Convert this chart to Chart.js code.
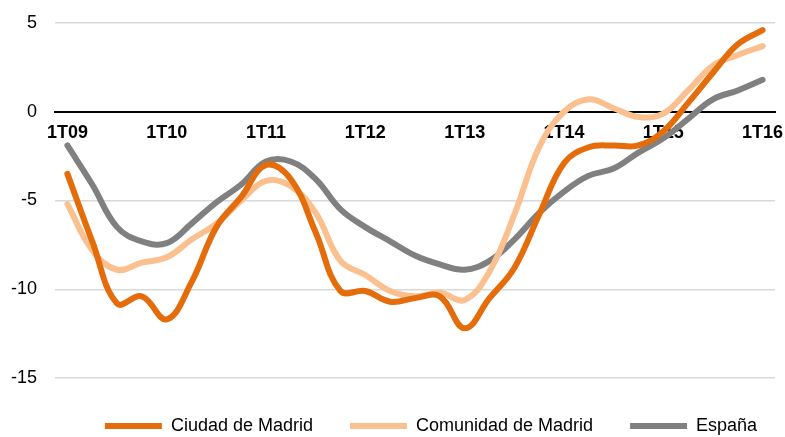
<!DOCTYPE html>
<html>
<head>
<meta charset="utf-8">
<script src="https://cdn.jsdelivr.net/npm/chart.js@4"></script>
<style>
  html, body { margin: 0; padding: 0; background: #fff; }
  #wrap { width: 785px; height: 437px; }
</style>
</head>
<body>
<div id="wrap"><canvas id="chart"></canvas></div>
<script>
// quarters 1T09 .. 1T16
const quarters = [];
for (let y = 9; y <= 16; y++) {
    for (let q = 1; q <= 4; q++) {
        if (y === 16 && q > 1) break;
        quarters.push(q + 'T' + String(y).padStart(2, '0'));
    }
}

const ciudad = [-3.5, -7.3, -10.8, -10.4, -11.7, -9.6, -6.5, -4.8, -3.0, -3.8, -6.8, -10.1, -10.1, -10.7, -10.5,
    -10.4, -12.2, -10.5, -8.8, -5.8, -2.9, -2.0, -1.9, -1.9, -1.1, 0.5, 2.2, 3.8, 4.6];
const comunidad = [-5.2, -7.8, -8.9, -8.5, -8.2, -7.2, -6.3, -5.0, -3.9, -4.2, -5.7, -8.4, -9.2, -10.1, -10.4,
    -10.2, -10.6, -9.0, -5.8, -2.0, 0.0, 0.7, 0.2, -0.3, -0.1, 1.2, 2.6, 3.2, 3.7];
const espana = [-1.9, -4.1, -6.5, -7.3, -7.4, -6.3, -5.1, -4.1, -2.8, -2.8, -3.8, -5.5, -6.5, -7.3, -8.1,
    -8.6, -8.9, -8.4, -7.2, -5.7, -4.5, -3.6, -3.2, -2.3, -1.5, -0.4, 0.7, 1.2, 1.8];

const seriesNames = ['Ciudad de Madrid', 'Comunidad de Madrid', 'España'];
const seriesColors = ['#E46C0A', '#FAC090', '#808080'];
const yTicks = [5, 0, -5, -10, -15];

const FONT = '"Liberation Sans", Arial, Helvetica, sans-serif';

// legend: fixed height and small shift so it sits like the original
const legendPlace = {
    id: 'legendPlace',
    beforeLayout(chart) {
        const lg = chart.legend;
        if (lg && !lg._patched) {
            const origFit = lg.fit;
            lg.fit = function () {
                origFit.call(this);
                this.height = 59;
            };
            lg._patched = true;
        }
    },
    afterLayout(chart) {
        const lg = chart.legend;
        lg.top += 2; lg.bottom += 2;
        lg.left += 38; lg.right += 38;
    }
};

const makeSet = (i, data) => ({
    label: seriesNames[i],
    data: data,
    borderColor: seriesColors[i],
    backgroundColor: seriesColors[i],
    borderWidth: 6,
    borderCapStyle: 'round',
    borderJoinStyle: 'round',
    pointRadius: 0,
    tension: 0.4,
    fill: false
});

new Chart(document.getElementById('chart'), {
    type: 'line',
    data: {
        labels: quarters,
        datasets: [makeSet(0, ciudad), makeSet(1, comunidad), makeSet(2, espana)]
    },
    options: {
        responsive: true,
        maintainAspectRatio: false,
        animation: false,
        layout: { padding: { top: 23, left: 11, right: 10, bottom: 0 } },
        scales: {
            x: {
                position: { y: 0 },
                offset: true,
                grid: { display: false, drawTicks: false },
                border: { display: true, color: '#000', width: 2 },
                afterFit: (axis) => { axis.paddingLeft = 0; axis.paddingRight = 0; },
                ticks: {
                    autoSkip: false,
                    maxRotation: 0,
                    padding: 10,
                    color: '#000',
                    font: { family: FONT, size: 18, weight: 'bold' },
                    callback: (v, i) => quarters[i].startsWith('1T') ? quarters[i] : ''
                }
            },
            y: {
                min: -15,
                max: 5,
                afterBuildTicks: (axis) => { axis.ticks = yTicks.map(v => ({ value: v })); },
                afterFit: (axis) => { axis.width = 44; axis.paddingTop = 0; axis.paddingBottom = 0; },
                grid: {
                    drawTicks: false,
                    color: (ctx) => ctx.tick && ctx.tick.value === 0 ? '#000' : '#d9d9d9',
                    lineWidth: (ctx) => ctx.tick && ctx.tick.value === 0 ? 2 : 1.5
                },
                border: { display: false },
                ticks: {
                    padding: 18,
                    color: '#000',
                    font: { family: FONT, size: 18 }
                }
            }
        },
        plugins: {
            tooltip: { enabled: false },
            legend: {
                position: 'bottom',
                align: 'center',
                labels: {
                    boxWidth: 57,
                    boxHeight: 6,
                    padding: 37,
                    color: '#000',
                    font: { family: FONT, size: 18 },
                    generateLabels: (chart) => chart.data.datasets.map((ds, i) => ({
                        text: ds.label,
                        fillStyle: ds.borderColor,
                        strokeStyle: ds.borderColor,
                        lineWidth: 0,
                        datasetIndex: i,
                        hidden: false
                    }))
                }
            }
        }
    },
    plugins: [legendPlace]
});
</script>
</body>
</html>
